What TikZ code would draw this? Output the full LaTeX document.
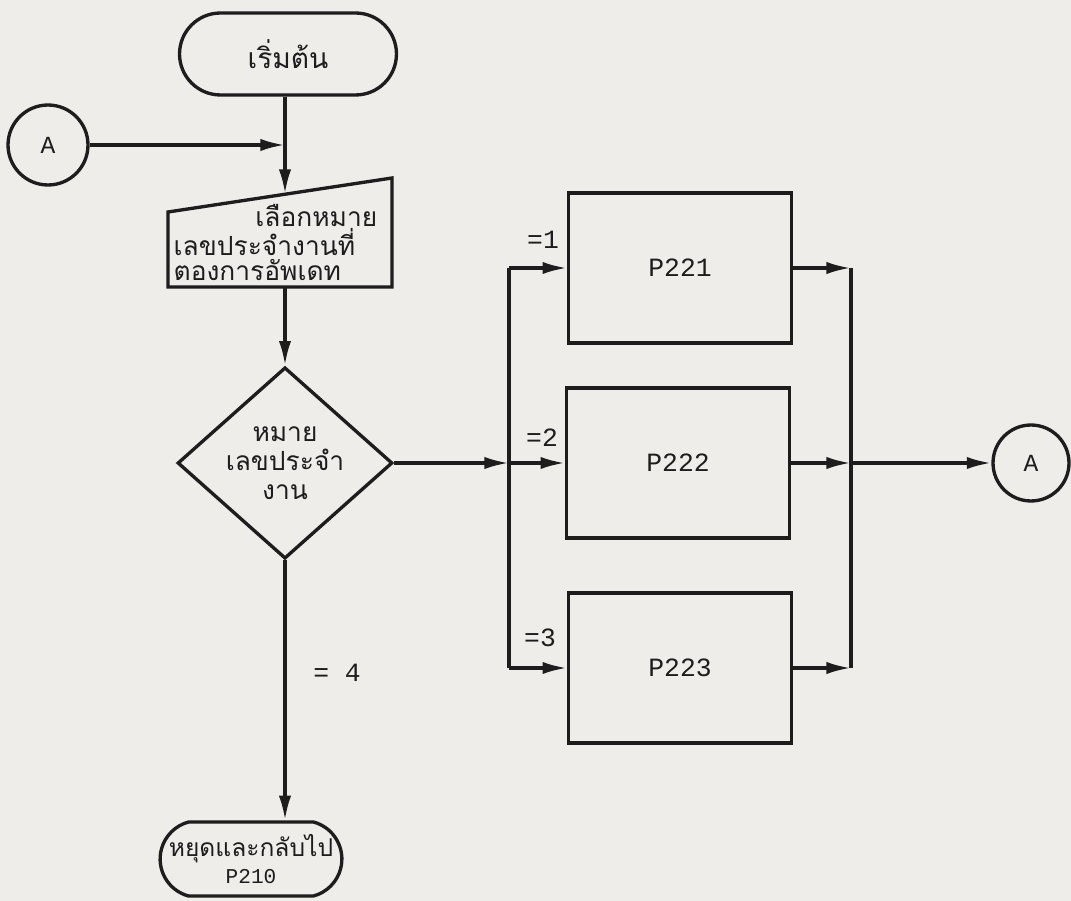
\documentclass[tikz,border=0pt]{standalone}
\usepackage{fontspec}
\usepackage{tikz}
\usetikzlibrary{shapes.geometric,shapes.misc,arrows.meta}
\newfontfamily\thaifnt[Script=Thai]{Loma}
\newfontfamily\codefnt{Liberation Mono}
\definecolor{paper}{RGB}{238,237,234}
\definecolor{ink}{RGB}{30,28,28}

\begin{document}
\begin{tikzpicture}[x=0.02cm, y=-0.02cm, line width=1.9pt, draw=ink, text=ink,
	term/.style={rounded rectangle, draw, align=center, inner sep=0pt},
	proc/.style={rectangle, draw, minimum width=4.45cm, minimum height=3cm, font=\codefnt\fontsize{15}{18}\selectfont},
	dec/.style={diamond, draw, minimum width=4.3cm, minimum height=2.9cm, inner sep=0pt, align=center, font=\thaifnt\fontsize{15}{16.5}\selectfont},
	conn/.style={circle, draw, inner sep=0pt, font=\codefnt\fontsize{14}{16}\selectfont},
	flow/.style={-{Latex[length=14pt,width=7pt]}},
	lbl/.style={font=\codefnt\fontsize{15}{18}\selectfont}]

	\fill[paper] (0,0) rectangle (1071,901);
	\useasboundingbox (0,0) rectangle (1071,901);

	% terminals and connectors
	\node[term, minimum width=4.34cm, minimum height=1.64cm, font=\thaifnt\fontsize{16}{18}\selectfont] (start) at (288,54) {เริ่มต้น};
	\node[term, minimum width=3.5cm, minimum height=1.48cm, rounded rectangle arc length=150] (stop) at (251,859)
		{{\thaifnt\fontsize{14}{16}\selectfont หยุดและกลับไป}\\[3pt]{\codefnt\fontsize{12}{14}\selectfont P210}};
	\node[conn, minimum size=1.6cm] (inA) at (48,145) {A};
	\node[conn, minimum size=1.52cm] (outA) at (1031,463) {A};

	% manual input
	\coordinate (inTL) at (168,212);
	\coordinate (inTR) at (392,178);
	\coordinate (inBR) at (392,287);
	\coordinate (inBL) at (168,287);
	\coordinate (inTop) at (285,194);
	\coordinate (inBot) at (285,287);
	\draw (inTL) -- (inTR) -- (inBR) -- (inBL) -- cycle;
	\node[align=left, font=\thaifnt\fontsize{15}{14}\selectfont, anchor=north west, inner sep=0pt] (pick) at (172,203)
		{\hspace*{3.1em}เลือกหมาย\\เลขประจำงานที่\\ตองการอัพเดท};

	% decision and processes
	\node[dec] (dec) at (285,463) {หมาย\\เลขประจำ\\งาน};
	\node[proc] (p1) at (680,268) {P221};
	\node[proc] (p2) at (678,463) {P222};
	\node[proc] (p3) at (680,668) {P223};

	\coordinate (jA) at (285,145);
	\coordinate (b1) at (509,268);
	\coordinate (b2) at (509,463);
	\coordinate (b3) at (509,668);
	\coordinate (r1) at (851,268);
	\coordinate (r2) at (851,463);
	\coordinate (r3) at (851,668);

	% connections
	\draw (start.south -| jA) -- (jA);
	\draw[flow] (inA) -- (jA);
	\draw[flow] (jA) -- (inTop);
	\draw[flow] (inBot) -- (dec.north);
	\draw[flow] (dec.east) -- (b2);
	\draw (b1) -- (b3);
	\draw[flow] (b1) -- (p1.west);
	\draw[flow] (b2) -- (p2.west);
	\draw[flow] (b3) -- (p3.west);
	\draw[flow] (p1.east) -- (r1);
	\draw[flow] (p2.east) -- (r2);
	\draw[flow] (p3.east) -- (r3);
	\draw (r1) -- (r3);
	\draw[flow] (r2) -- (outA);
	\draw[flow] (dec.south) -- (dec.south |- stop.north);

	% labels
	\node[lbl] (l1) at (543,240) {=1};
	\node[lbl] (l2) at (542,438) {=2};
	\node[lbl] (l3) at (540,638) {=3};
	\node[lbl] (l4) at (337,673) {= 4};

\end{tikzpicture}
\end{document}
